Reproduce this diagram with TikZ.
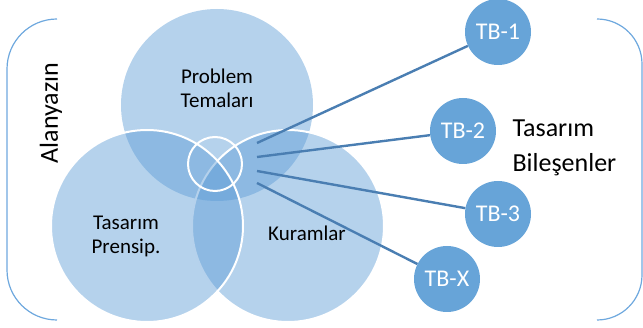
\documentclass[tikz,border=0pt]{standalone}
\usepackage{fontspec}
\setmainfont{Carlito}
\begin{document}
\begin{tikzpicture}[x=1pt,y=-1pt,
  venn/.style={fill={rgb,255:red,91;green,155;blue,213},fill opacity=0.45},
  vennedge/.style={draw=white,line width=2pt},
  vlabel/.style={align=center,font=\fontsize{21}{24}\selectfont,text=black},
  tbcircle/.style={circle,fill={rgb,255:red,103;green,164;blue,216},minimum size=66pt,inner sep=0pt,
    text=white,font=\fontsize{24}{26}\selectfont},
  spoke/.style={draw={rgb,255:red,74;green,126;blue,178},line width=2.4pt},
  brace/.style={draw={rgb,255:red,110;green,168;blue,222},line width=1.2pt},
  biglabel/.style={align=left,font=\fontsize{26}{35}\selectfont,text=black}]
\useasboundingbox (0,0) rectangle (643,328);

% Venn circles: top, right, left (later circles keep their white rims on top)
\fill[venn] (217,105) circle (96);
\fill[venn] (288,226) circle (96);
\draw[vennedge] (288,226) circle (96);
\fill[venn] (147,226) circle (96);
\draw[vennedge] (147,226) circle (96);
% small ring in the common area
\draw[vennedge] (215,164) circle (27);

\node[vlabel] (prob) at (217,88) {Problem\\Temaları};
\node[vlabel] (pren) at (126,236) {Tasarım\\Prensip.};
\node[vlabel] (kur) at (307,233) {Kuramlar};

% design components
\node[tbcircle] (tb1) at (498,32) {TB-1};
\node[tbcircle] (tb2) at (463,131) {TB-2};
\node[tbcircle] (tb3) at (498,214) {TB-3};
\node[tbcircle] (tbx) at (447,279) {TB-X};

\coordinate (s1) at (257,143);
\coordinate (s2) at (257,157);
\coordinate (s3) at (257,171);
\coordinate (s4) at (257,183);
\draw[spoke] (s1) -- (tb1);
\draw[spoke] (s2) -- (tb2);
\draw[spoke] (s3) -- (tb3);
\draw[spoke] (s4) -- (tbx);

% brackets
\draw[brace] (57,19) arc[start angle=-90,end angle=-180,radius=50] -- (7,270) arc[start angle=180,end angle=90,radius=50];
\draw[brace] (597,19) arc[start angle=-90,end angle=0,radius=45] -- (642,275) arc[start angle=0,end angle=90,radius=45];

\node[rotate=90,font=\fontsize{26}{30}\selectfont] (alan) at (51,113) {Alanyazın};
\node[biglabel,anchor=west] (tbl) at (509,148) {Tasarım\\Bileşenler};
\end{tikzpicture}
\end{document}
